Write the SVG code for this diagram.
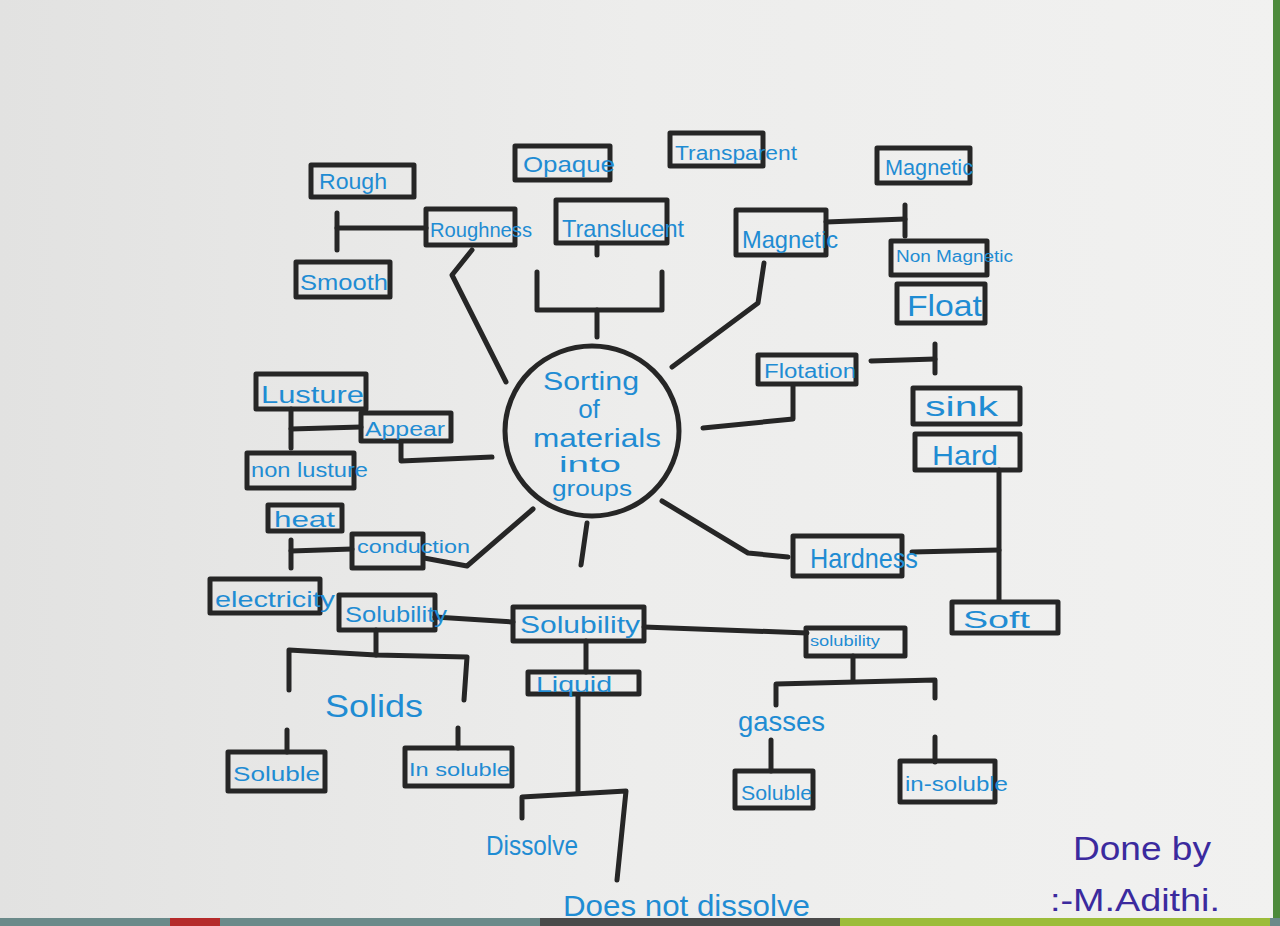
<svg xmlns="http://www.w3.org/2000/svg" width="1280" height="926" viewBox="0 0 1280 926">
<defs>
<linearGradient id="paper" x1="0" y1="0" x2="1" y2="0">
<stop offset="0" stop-color="#e2e2e1"/>
<stop offset="0.5" stop-color="#ededec"/>
<stop offset="1" stop-color="#f1f1f0"/>
</linearGradient>
<style>
.box{fill:none;stroke:#262626;stroke-width:5;stroke-linejoin:round}
.ln{fill:none;stroke:#262626;stroke-width:5;stroke-linecap:round;stroke-linejoin:round}
.t{font-family:"Liberation Sans","DejaVu Sans",sans-serif;fill:#1f8cd3}
.s{font-family:"Liberation Sans","DejaVu Sans",sans-serif;fill:#3b2a9e}
</style>
</defs>
<rect x="0" y="0" width="1280" height="926" fill="url(#paper)"/>
<rect x="1273" y="0" width="7" height="926" fill="#4d8a3c"/>
<rect x="0" y="918" width="1280" height="8" fill="#6b8a8a"/>
<rect x="170" y="918" width="50" height="8" fill="#b52a2a"/>
<rect x="540" y="918" width="300" height="8" fill="#4a4a4a"/>
<rect x="840" y="918" width="430" height="8" fill="#9cbc3a"/>

<g id="connectors">
<polyline class="ln" points="337,213 337,250"/>
<polyline class="ln" points="337,228 426,228"/>
<polyline class="ln" points="472,250 452,275 506,382"/>
<polyline class="ln" points="597,243 597,255"/>
<polyline class="ln" points="537,272 537,310 662,310 662,272"/>
<polyline class="ln" points="597,310 597,337"/>
<polyline class="ln" points="764,263 758,303 672,367"/>
<polyline class="ln" points="826,222 905,219"/>
<polyline class="ln" points="905,205 905,236"/>
<polyline class="ln" points="703,428 793,419 793,386"/>
<polyline class="ln" points="871,361 935,359"/>
<polyline class="ln" points="935,344 935,373"/>
<polyline class="ln" points="662,501 748,553 788,557"/>
<polyline class="ln" points="999,470 999,601"/>
<polyline class="ln" points="912,552 999,550"/>
<polyline class="ln" points="587,523 581,565"/>
<polyline class="ln" points="533,509 467,566 424,558"/>
<polyline class="ln" points="291,540 291,568"/>
<polyline class="ln" points="291,551 352,549"/>
<polyline class="ln" points="492,457 401,461 401,443"/>
<polyline class="ln" points="291,409 291,448"/>
<polyline class="ln" points="291,429 361,427"/>
<polyline class="ln" points="435,617 513,622"/>
<polyline class="ln" points="644,627 807,633"/>
<polyline class="ln" points="376,630 376,655"/>
<polyline class="ln" points="289,690 289,650 376,655 467,657 464,700"/>
<polyline class="ln" points="287,730 287,752"/>
<polyline class="ln" points="458,728 458,748"/>
<polyline class="ln" points="586,641 586,672"/>
<polyline class="ln" points="578,695 578,791"/>
<polyline class="ln" points="522,818 522,797 626,791 617,880"/>
<polyline class="ln" points="853,656 853,680"/>
<polyline class="ln" points="776,705 776,684 935,680 935,698"/>
<polyline class="ln" points="771,740 771,771"/>
<polyline class="ln" points="935,737 935,762"/>
</g>

<g id="center">
<ellipse cx="592" cy="431" rx="87" ry="85" fill="none" stroke="#262626" stroke-width="5"/>
<text class="t" x="591" y="390" font-size="26" text-anchor="middle" textLength="96" lengthAdjust="spacingAndGlyphs">Sorting</text>
<text class="t" x="589" y="418" font-size="26" text-anchor="middle">of</text>
<text class="t" x="597" y="447" font-size="26" text-anchor="middle" textLength="128" lengthAdjust="spacingAndGlyphs">materials</text>
<text class="t" x="590" y="472" font-size="22" text-anchor="middle" textLength="62" lengthAdjust="spacingAndGlyphs">into</text>
<text class="t" x="592" y="496" font-size="22" text-anchor="middle" textLength="80" lengthAdjust="spacingAndGlyphs">groups</text>
</g>

<g id="rough"><rect class="box" x="311" y="165" width="103" height="32"/><text class="t" x="319" y="189" font-size="22" textLength="68" lengthAdjust="spacingAndGlyphs">Rough</text></g>
<g id="roughness"><rect class="box" x="426" y="209" width="89" height="36"/><text class="t" x="430" y="237" font-size="21" textLength="102" lengthAdjust="spacingAndGlyphs">Roughness</text></g>
<g id="smooth"><rect class="box" x="296" y="262" width="94" height="35"/><text class="t" x="300" y="290" font-size="22" textLength="88" lengthAdjust="spacingAndGlyphs">Smooth</text></g>
<g id="opaque"><rect class="box" x="515" y="146" width="95" height="34"/><text class="t" x="523" y="172" font-size="22" textLength="92" lengthAdjust="spacingAndGlyphs">Opaque</text></g>
<g id="transparent"><rect class="box" x="670" y="133" width="93" height="33"/><text class="t" x="675" y="160" font-size="20" textLength="122" lengthAdjust="spacingAndGlyphs">Transparent</text></g>
<g id="translucent"><rect class="box" x="556" y="200" width="111" height="43"/><text class="t" x="562" y="237" font-size="24" textLength="122" lengthAdjust="spacingAndGlyphs">Translucent</text></g>
<g id="magnetic-main"><rect class="box" x="736" y="210" width="90" height="45"/><text class="t" x="742" y="248" font-size="24" textLength="96" lengthAdjust="spacingAndGlyphs">Magnetic</text></g>
<g id="magnetic"><rect class="box" x="877" y="148" width="93" height="35"/><text class="t" x="885" y="175" font-size="22" textLength="88" lengthAdjust="spacingAndGlyphs">Magnetic</text></g>
<g id="non-magnetic"><rect class="box" x="891" y="241" width="96" height="34"/><text class="t" x="896" y="262" font-size="16" textLength="117" lengthAdjust="spacingAndGlyphs">Non Magnetic</text></g>
<g id="float"><rect class="box" x="897" y="284" width="88" height="39"/><text class="t" x="907" y="316" font-size="30" textLength="75" lengthAdjust="spacingAndGlyphs">Float</text></g>
<g id="flotation"><rect class="box" x="758" y="355" width="98" height="29"/><text class="t" x="764" y="378" font-size="20" textLength="92" lengthAdjust="spacingAndGlyphs">Flotation</text></g>
<g id="sink"><rect class="box" x="913" y="388" width="107" height="36"/><text class="t" x="925" y="416" font-size="28" textLength="73" lengthAdjust="spacingAndGlyphs">sink</text></g>
<g id="hard"><rect class="box" x="915" y="434" width="105" height="36"/><text class="t" x="932" y="465" font-size="28" textLength="66" lengthAdjust="spacingAndGlyphs">Hard</text></g>
<g id="hardness"><rect class="box" x="793" y="536" width="109" height="40"/><text class="t" x="810" y="568" font-size="28" textLength="108" lengthAdjust="spacingAndGlyphs">Hardness</text></g>
<g id="soft"><rect class="box" x="952" y="602" width="106" height="31"/><text class="t" x="963" y="628" font-size="24" textLength="67" lengthAdjust="spacingAndGlyphs">Soft</text></g>
<g id="lusture"><rect class="box" x="256" y="374" width="110" height="35"/><text class="t" x="261" y="403" font-size="24" textLength="103" lengthAdjust="spacingAndGlyphs">Lusture</text></g>
<g id="appear"><rect class="box" x="361" y="413" width="90" height="28"/><text class="t" x="365" y="436" font-size="20" textLength="80" lengthAdjust="spacingAndGlyphs">Appear</text></g>
<g id="non-lusture"><rect class="box" x="247" y="453" width="107" height="35"/><text class="t" x="251" y="477" font-size="20" textLength="117" lengthAdjust="spacingAndGlyphs">non lusture</text></g>
<g id="heat"><rect class="box" x="268" y="505" width="74" height="26"/><text class="t" x="274" y="527" font-size="22" textLength="61" lengthAdjust="spacingAndGlyphs">heat</text></g>
<g id="conduction"><rect class="box" x="352" y="534" width="71" height="34"/><text class="t" x="357" y="553" font-size="18" textLength="113" lengthAdjust="spacingAndGlyphs">conduction</text></g>
<g id="electricity"><rect class="box" x="210" y="579" width="110" height="34"/><text class="t" x="215" y="607" font-size="22" textLength="120" lengthAdjust="spacingAndGlyphs">electricity</text></g>
<g id="solubility-solids"><rect class="box" x="339" y="595" width="96" height="35"/><text class="t" x="345" y="622" font-size="22" textLength="102" lengthAdjust="spacingAndGlyphs">Solubility</text></g>
<g id="solubility-main"><rect class="box" x="513" y="607" width="131" height="34"/><text class="t" x="520" y="633" font-size="24" textLength="120" lengthAdjust="spacingAndGlyphs">Solubility</text></g>
<g id="solubility-gasses"><rect class="box" x="806" y="628" width="99" height="28"/><text class="t" x="810" y="646" font-size="14" textLength="70" lengthAdjust="spacingAndGlyphs">solubility</text></g>
<g id="solids"><text class="t" x="325" y="717" font-size="32" textLength="98" lengthAdjust="spacingAndGlyphs">Solids</text></g>
<g id="soluble-solids"><rect class="box" x="228" y="752" width="97" height="39"/><text class="t" x="233" y="781" font-size="20" textLength="87" lengthAdjust="spacingAndGlyphs">Soluble</text></g>
<g id="insoluble-solids"><rect class="box" x="405" y="748" width="107" height="38"/><text class="t" x="409" y="776" font-size="19" textLength="101" lengthAdjust="spacingAndGlyphs">In soluble</text></g>
<g id="liquid"><rect class="box" x="528" y="672" width="111" height="22"/><text class="t" x="536" y="692" font-size="22" textLength="76" lengthAdjust="spacingAndGlyphs">Liquid</text></g>
<g id="dissolve"><text class="t" x="486" y="855" font-size="28" textLength="92" lengthAdjust="spacingAndGlyphs">Dissolve</text></g>
<g id="does-not-dissolve"><text class="t" x="563" y="916" font-size="30" textLength="247" lengthAdjust="spacingAndGlyphs">Does not dissolve</text></g>
<g id="gasses"><text class="t" x="738" y="731" font-size="28" textLength="87" lengthAdjust="spacingAndGlyphs">gasses</text></g>
<g id="soluble-gasses"><rect class="box" x="735" y="771" width="78" height="37"/><text class="t" x="741" y="800" font-size="20" textLength="71" lengthAdjust="spacingAndGlyphs">Soluble</text></g>
<g id="insoluble-gasses"><rect class="box" x="900" y="761" width="95" height="41"/><text class="t" x="905" y="791" font-size="21" textLength="103" lengthAdjust="spacingAndGlyphs">in-soluble</text></g>
<g id="credit">
<text class="s" x="1073" y="860" font-size="34" textLength="138" lengthAdjust="spacingAndGlyphs">Done by</text>
<text class="s" x="1050" y="911" font-size="32" textLength="170" lengthAdjust="spacingAndGlyphs">:-M.Adithi.</text>
</g>
</svg>
